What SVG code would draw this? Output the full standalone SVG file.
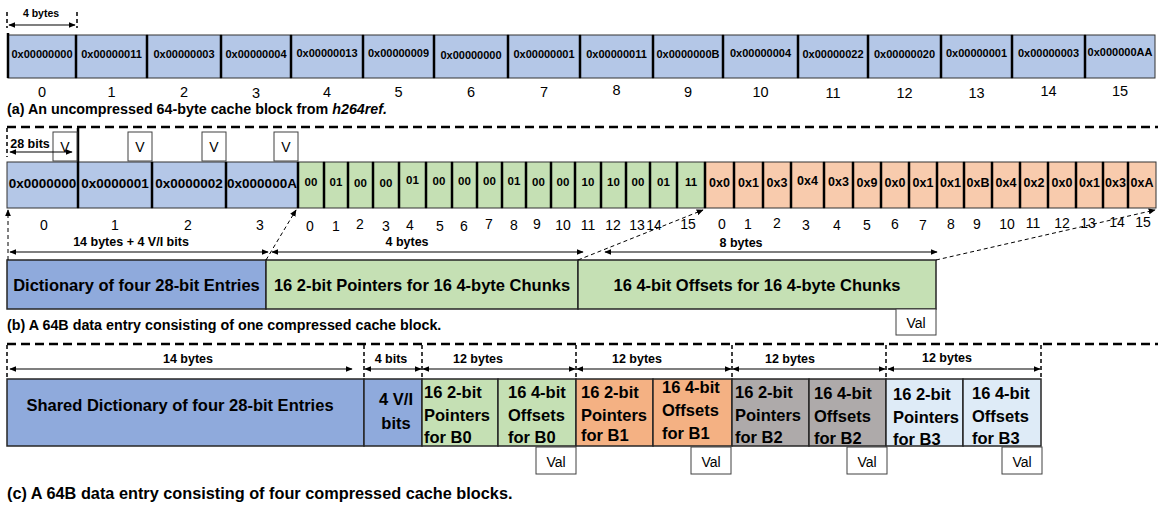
<svg xmlns="http://www.w3.org/2000/svg" width="1158" height="506" viewBox="0 0 1158 506">
<defs>
<marker id="ah" viewBox="0 0 10 10" refX="9" refY="5" markerWidth="7" markerHeight="6" markerUnits="userSpaceOnUse" orient="auto-start-reverse" preserveAspectRatio="none">
<path d="M0,0 L10,5 L0,10 z" fill="#000"/>
</marker>
</defs>
<style>
text{font-family:"Liberation Sans",Arial,sans-serif;fill:#000}
.cap{font-size:14.3px;font-weight:bold}
.c{text-anchor:middle}
.la{font-size:11px;font-weight:bold;text-anchor:middle}
.lbd{font-size:13.5px;font-weight:bold;text-anchor:middle}
.lg{font-size:11.5px;font-weight:bold;text-anchor:middle}
.lo{font-size:12.5px;font-weight:bold;text-anchor:middle}
.ia{font-size:14.5px;text-anchor:middle}
.ib{font-size:14px;text-anchor:middle}
.dim{font-size:12.5px;font-weight:bold;text-anchor:middle}
.big{font-size:16.5px;font-weight:bold}
.small{font-size:14px;text-anchor:middle}
.cellA{fill:#B4C7E7;stroke:#333;stroke-width:1}
.cellG{fill:#C5E0B4;stroke:#333;stroke-width:1}
.cellO{fill:#F8CBAD;stroke:#333;stroke-width:1}
.sep{stroke:#000;stroke-width:2.5}
.box{stroke:#262626;stroke-width:1.5}
.dict{fill:#8FAADC}
.grn{fill:#C5E0B4}
.b1{fill:#F4B183}
.b2{fill:#AEAAAA}
.b3{fill:#DEEBF7}
.wbox{fill:#fff;stroke:#404040;stroke-width:1}
.dsep{stroke:#000;stroke-width:2.5;stroke-dasharray:9 5;fill:none}
.tick{stroke:#000;stroke-width:1.5;stroke-dasharray:4 3;fill:none}
.arr{stroke:#000;stroke-width:1.2;fill:none;marker-start:url(#ah);marker-end:url(#ah)}
.darr{stroke:#000;stroke-width:1;stroke-dasharray:4 3;fill:none;marker-end:url(#ah)}
</style>

<!-- ===== (a) ===== -->
<g id="row-a">
<g id="a0"><rect class="cellA" x="8" y="35" width="68" height="43"/><text class="la" x="42" y="58">0x00000000</text></g>
<g id="a1"><rect class="cellA" x="76" y="35" width="71" height="43"/><text class="la" x="111.5" y="58">0x00000011</text></g>
<g id="a2"><rect class="cellA" x="147" y="35" width="74" height="43"/><text class="la" x="184" y="58">0x00000003</text></g>
<g id="a3"><rect class="cellA" x="221" y="35" width="70" height="43"/><text class="la" x="256" y="58">0x00000004</text></g>
<g id="a4"><rect class="cellA" x="291" y="35" width="72" height="43"/><text class="la" x="327" y="57">0x00000013</text></g>
<g id="a5"><rect class="cellA" x="363" y="35" width="71" height="43"/><text class="la" x="398.5" y="57">0x00000009</text></g>
<g id="a6"><rect class="cellA" x="434" y="35" width="74" height="43"/><text class="la" x="471" y="59">0x00000000</text></g>
<g id="a7"><rect class="cellA" x="508" y="35" width="72" height="43"/><text class="la" x="544" y="58">0x00000001</text></g>
<g id="a8"><rect class="cellA" x="580" y="35" width="73" height="43"/><text class="la" x="616.5" y="58">0x00000011</text></g>
<g id="a9"><rect class="cellA" x="653" y="35" width="70" height="43"/><text class="la" x="688" y="58">0x0000000B</text></g>
<g id="a10"><rect class="cellA" x="723" y="35" width="75" height="43"/><text class="la" x="760.5" y="57">0x00000004</text></g>
<g id="a11"><rect class="cellA" x="798" y="35" width="70" height="43"/><text class="la" x="833" y="58">0x00000022</text></g>
<g id="a12"><rect class="cellA" x="868" y="35" width="73" height="43"/><text class="la" x="904.5" y="58">0x00000020</text></g>
<g id="a13"><rect class="cellA" x="941" y="35" width="71" height="43"/><text class="la" x="976.5" y="57">0x00000001</text></g>
<g id="a14"><rect class="cellA" x="1012" y="35" width="73" height="43"/><text class="la" x="1048.5" y="57">0x00000003</text></g>
<g id="a15"><rect class="cellA" x="1085" y="35" width="70" height="43"/><text class="la" x="1120" y="56">0x000000AA</text></g>
<g id="a-sep">
<path class="sep" d="M8,33V78 M76,35V78 M147,35V78 M221,35V78 M291,35V78 M363,35V78 M434,35V78 M508,35V78 M580,35V78 M653,35V78 M723,35V78 M798,35V78 M868,35V78 M941,35V78 M1012,35V78 M1085,35V78"/>
</g>
<g id="a-idx">
<text class="ia" x="42" y="97">0</text><text class="ia" x="111.5" y="97">1</text><text class="ia" x="184" y="97">2</text><text class="ia" x="256" y="98">3</text><text class="ia" x="327" y="97">4</text><text class="ia" x="398.5" y="97">5</text><text class="ia" x="471" y="97">6</text><text class="ia" x="544" y="97">7</text><text class="ia" x="616.5" y="95">8</text><text class="ia" x="688" y="97">9</text><text class="ia" x="760.5" y="97">10</text><text class="ia" x="833" y="98">11</text><text class="ia" x="904.5" y="98">12</text><text class="ia" x="976.5" y="98">13</text><text class="ia" x="1048.5" y="96">14</text><text class="ia" x="1120" y="96">15</text>
</g>
<text class="dim" x="41" y="17" style="font-size:10.5px">4 bytes</text>
</g>
<text id="cap-a" class="cap" x="7" y="114">(a) An uncompressed 64-byte cache block from <tspan font-style="italic">h264ref.</tspan></text>

<!-- ===== (b) ===== -->
<g id="row-b">
<g id="bd0"><rect class="cellA" x="7" y="162" width="71" height="46"/><text class="lbd" x="42.5" y="188">0x0000000</text></g>
<g id="bd1"><rect class="cellA" x="78" y="162" width="74" height="46"/><text class="lbd" x="115" y="188">0x0000001</text></g>
<g id="bd2"><rect class="cellA" x="152" y="162" width="74" height="46"/><text class="lbd" x="189" y="188">0x0000002</text></g>
<g id="bd3"><rect class="cellA" x="226" y="162" width="72" height="46"/><text class="lbd" x="262" y="188">0x000000A</text></g>

<g id="bp0"><rect class="cellG" x="298" y="162" width="26" height="46"/><text class="lg" x="311" y="186">00</text></g>
<g id="bp1"><rect class="cellG" x="324" y="162" width="24" height="46"/><text class="lg" x="336" y="186">01</text></g>
<g id="bp2"><rect class="cellG" x="348" y="162" width="25" height="46"/><text class="lg" x="360.5" y="187">00</text></g>
<g id="bp3"><rect class="cellG" x="373" y="162" width="26" height="46"/><text class="lg" x="386" y="187">00</text></g>
<g id="bp4"><rect class="cellG" x="399" y="162" width="27" height="46"/><text class="lg" x="412.5" y="184">01</text></g>
<g id="bp5"><rect class="cellG" x="426" y="162" width="26" height="46"/><text class="lg" x="439" y="185">00</text></g>
<g id="bp6"><rect class="cellG" x="452" y="162" width="25" height="46"/><text class="lg" x="464.5" y="185">00</text></g>
<g id="bp7"><rect class="cellG" x="477" y="162" width="25" height="46"/><text class="lg" x="489.5" y="185">00</text></g>
<g id="bp8"><rect class="cellG" x="502" y="162" width="24" height="46"/><text class="lg" x="514" y="185">01</text></g>
<g id="bp9"><rect class="cellG" x="526" y="162" width="25" height="46"/><text class="lg" x="538.5" y="186">00</text></g>
<g id="bp10"><rect class="cellG" x="551" y="162" width="24" height="46"/><text class="lg" x="563" y="186">00</text></g>
<g id="bp11"><rect class="cellG" x="575" y="162" width="26" height="46"/><text class="lg" x="588" y="186">10</text></g>
<g id="bp12"><rect class="cellG" x="601" y="162" width="25" height="46"/><text class="lg" x="613.5" y="186">10</text></g>
<g id="bp13"><rect class="cellG" x="626" y="162" width="24" height="46"/><text class="lg" x="638" y="186">00</text></g>
<g id="bp14"><rect class="cellG" x="650" y="162" width="27" height="46"/><text class="lg" x="663.5" y="186">01</text></g>
<g id="bp15"><rect class="cellG" x="677" y="162" width="28" height="46"/><text class="lg" x="691" y="186">11</text></g>

<g id="bo0"><rect class="cellO" x="705" y="162" width="29" height="46"/><text class="lo" x="719.5" y="187">0x0</text></g>
<g id="bo1"><rect class="cellO" x="734" y="162" width="29" height="46"/><text class="lo" x="748.5" y="187">0x1</text></g>
<g id="bo2"><rect class="cellO" x="763" y="162" width="28" height="46"/><text class="lo" x="777" y="187">0x3</text></g>
<g id="bo3"><rect class="cellO" x="791" y="162" width="33" height="46"/><text class="lo" x="807.5" y="185">0x4</text></g>
<g id="bo4"><rect class="cellO" x="824" y="162" width="29" height="46"/><text class="lo" x="838.5" y="186">0x3</text></g>
<g id="bo5"><rect class="cellO" x="853" y="162" width="28" height="46"/><text class="lo" x="867" y="187">0x9</text></g>
<g id="bo6"><rect class="cellO" x="881" y="162" width="28" height="46"/><text class="lo" x="895" y="187">0x0</text></g>
<g id="bo7"><rect class="cellO" x="909" y="162" width="28" height="46"/><text class="lo" x="923" y="187">0x1</text></g>
<g id="bo8"><rect class="cellO" x="937" y="162" width="27" height="46"/><text class="lo" x="950.5" y="187">0x1</text></g>
<g id="bo9"><rect class="cellO" x="964" y="162" width="28" height="46"/><text class="lo" x="978" y="187">0xB</text></g>
<g id="bo10"><rect class="cellO" x="992" y="162" width="28" height="46"/><text class="lo" x="1006" y="187">0x4</text></g>
<g id="bo11"><rect class="cellO" x="1020" y="162" width="28" height="46"/><text class="lo" x="1034" y="187">0x2</text></g>
<g id="bo12"><rect class="cellO" x="1048" y="162" width="28" height="46"/><text class="lo" x="1062" y="187">0x0</text></g>
<g id="bo13"><rect class="cellO" x="1076" y="162" width="27" height="46"/><text class="lo" x="1089.5" y="187">0x1</text></g>
<g id="bo14"><rect class="cellO" x="1103" y="162" width="25" height="46"/><text class="lo" x="1115.5" y="187">0x3</text></g>
<g id="bo15"><rect class="cellO" x="1128" y="162" width="28" height="46"/><text class="lo" x="1142" y="187">0xA</text></g>

<g id="b-sep">
<path class="sep" d="M78,128V208 M152,162V208 M226,162V208 M298,162V208 M324,162V208 M348,162V208 M373,162V208 M399,162V208 M426,162V208 M452,162V208 M477,162V208 M502,162V208 M526,162V208 M551,162V208 M575,162V208 M601,162V208 M626,162V208 M650,162V208 M677,162V208 M705,162V208 M734,162V208 M763,162V208 M791,162V208 M824,162V208 M853,162V208 M881,162V208 M909,162V208 M937,162V208 M964,162V208 M992,162V208 M1020,162V208 M1048,162V208 M1076,162V208 M1103,162V208 M1128,162V208"/>
</g>

<g id="v0"><rect class="wbox" x="53" y="132" width="24" height="29"/><text class="small" x="65" y="152">V</text></g>
<g id="v1"><rect class="wbox" x="128" y="132" width="24" height="29"/><text class="small" x="140" y="152">V</text></g>
<g id="v2"><rect class="wbox" x="202" y="132" width="24" height="29"/><text class="small" x="214" y="152">V</text></g>
<g id="v3"><rect class="wbox" x="274" y="132" width="24" height="29"/><text class="small" x="286" y="152">V</text></g>
<text class="dim" x="30" y="148" style="font-size:12.5px">28 bits</text>

<g id="b-idx">
<text class="ib" x="44" y="230">0</text><text class="ib" x="115" y="230">1</text><text class="ib" x="188" y="230">2</text><text class="ib" x="260" y="230">3</text>
<text class="ib" x="310" y="231">0</text><text class="ib" x="336" y="231">1</text><text class="ib" x="360" y="229">2</text><text class="ib" x="386" y="231">3</text><text class="ib" x="410" y="230">4</text><text class="ib" x="440" y="231">5</text><text class="ib" x="464" y="231">6</text><text class="ib" x="489" y="229">7</text><text class="ib" x="514" y="230">8</text><text class="ib" x="537" y="229">9</text><text class="ib" x="563" y="230">10</text><text class="ib" x="588" y="230">11</text><text class="ib" x="613" y="230">12</text><text class="ib" x="637" y="230">13</text><text class="ib" x="654" y="230">14</text><text class="ib" x="688" y="229">15</text>
<text class="ib" x="722" y="229">0</text><text class="ib" x="748" y="229">1</text><text class="ib" x="777" y="228">2</text><text class="ib" x="806" y="230">3</text><text class="ib" x="837" y="230">4</text><text class="ib" x="867" y="230">5</text><text class="ib" x="895" y="229">6</text><text class="ib" x="923" y="230">7</text><text class="ib" x="951" y="229">8</text><text class="ib" x="977" y="229">9</text><text class="ib" x="1007" y="229">10</text><text class="ib" x="1033" y="228">11</text><text class="ib" x="1062" y="228">12</text><text class="ib" x="1088" y="228">13</text><text class="ib" x="1117" y="227">14</text><text class="ib" x="1143" y="227">15</text>
</g>

<text class="dim" x="131" y="246">14 bytes + 4 V/I bits</text>
<text class="dim" x="407" y="246">4 bytes</text>
<text class="dim" x="741" y="247">8 bytes</text>

<g id="b-dict"><rect class="box dict" x="7" y="260" width="259" height="49"/><text class="big c" x="136.5" y="291">Dictionary of four 28-bit Entries</text></g>
<g id="b-ptr"><rect class="box grn" x="266" y="260" width="312" height="49"/><text class="big c" x="422" y="291">16 2-bit Pointers for 16 4-byte Chunks</text></g>
<g id="b-off"><rect class="box grn" x="578" y="260" width="358" height="49"/><text class="big c" x="757" y="291">16 4-bit Offsets for 16 4-byte Chunks</text></g>
<g id="b-val"><rect class="wbox" x="896" y="309" width="40" height="26"/><text class="small" x="916" y="328">Val</text></g>
</g>
<text id="cap-b" class="cap" x="7" y="330">(b) A 64B data entry consisting of one compressed cache block.</text>

<!-- ===== (c) ===== -->
<g id="row-c">
<g id="c-dict"><rect class="box dict" x="7" y="379" width="357" height="67"/><text class="big c" x="180" y="411">Shared Dictionary of four 28-bit Entries</text></g>
<g id="c-vi"><rect class="box dict" x="364" y="379" width="58" height="67"/><text class="big c" x="396" y="405">4 V/I</text><text class="big c" x="396" y="429">bits</text></g>
<g id="c-p0"><rect class="box grn" x="422" y="379" width="76" height="67"/><text class="big"><tspan x="424" y="398">16 2-bit</tspan><tspan x="424" y="421">Pointers</tspan><tspan x="424" y="443">for B0</tspan></text></g>
<g id="c-o0"><rect class="box grn" x="498" y="379" width="78" height="67"/><text class="big"><tspan x="508" y="398">16 4-bit</tspan><tspan x="508" y="421">Offsets</tspan><tspan x="508" y="443">for B0</tspan></text></g>
<g id="c-p1"><rect class="box b1" x="576" y="379" width="77" height="67"/><text class="big"><tspan x="581" y="398">16 2-bit</tspan><tspan x="581" y="421">Pointers</tspan><tspan x="581" y="441">for B1</tspan></text></g>
<g id="c-o1"><rect class="box b1" x="653" y="379" width="79" height="67"/><text class="big"><tspan x="662" y="393">16 4-bit</tspan><tspan x="662" y="416">Offsets</tspan><tspan x="662" y="439">for B1</tspan></text></g>
<g id="c-p2"><rect class="box b2" x="732" y="379" width="77" height="67"/><text class="big"><tspan x="735" y="398">16 2-bit</tspan><tspan x="735" y="421">Pointers</tspan><tspan x="735" y="443">for B2</tspan></text></g>
<g id="c-o2"><rect class="box b2" x="809" y="379" width="77" height="67"/><text class="big"><tspan x="814" y="399">16 4-bit</tspan><tspan x="814" y="422">Offsets</tspan><tspan x="814" y="444">for B2</tspan></text></g>
<g id="c-p3"><rect class="box b3" x="886" y="379" width="77" height="67"/><text class="big"><tspan x="893" y="400">16 2-bit</tspan><tspan x="893" y="423">Pointers</tspan><tspan x="893" y="445">for B3</tspan></text></g>
<g id="c-o3"><rect class="box b3" x="963" y="379" width="78" height="67"/><text class="big"><tspan x="972" y="399">16 4-bit</tspan><tspan x="972" y="422">Offsets</tspan><tspan x="972" y="444">for B3</tspan></text></g>
<g id="c-v0"><rect class="wbox" x="536" y="447" width="40" height="27"/><text class="small" x="556" y="467">Val</text></g>
<g id="c-v1"><rect class="wbox" x="691" y="447" width="40" height="27"/><text class="small" x="711" y="467">Val</text></g>
<g id="c-v2"><rect class="wbox" x="847" y="447" width="40" height="27"/><text class="small" x="867" y="467">Val</text></g>
<g id="c-v3"><rect class="wbox" x="1002" y="447" width="40" height="27"/><text class="small" x="1022" y="467">Val</text></g>
<text class="dim" x="188" y="363">14 bytes</text>
<text class="dim" x="391" y="363">4 bits</text>
<text class="dim" x="478" y="363">12 bytes</text>
<text class="dim" x="637" y="363">12 bytes</text>
<text class="dim" x="790" y="363">12 bytes</text>
<text class="dim" x="947" y="362">12 bytes</text>
</g>
<text id="cap-c" class="cap" x="7" y="499" style="font-size:16.3px">(c) A 64B data entry consisting of four compressed cache blocks.</text>

<!-- ===== connectors ===== -->
<g id="connectors">
<path class="dsep" d="M7,127H1158"/>
<path class="dsep" d="M7,344H1158"/>
<path class="tick" d="M7,12V28 M77,12V28"/>
<path class="arr" d="M9,25H75"/>
<path class="tick" d="M7,128V157"/>
<path class="arr" d="M10,152H72"/>
<path class="arr" d="M10,252H268"/>
<path class="arr" d="M272,252H583"/>
<path class="arr" d="M605,252H937"/>
<path class="darr" d="M8,260V210"/>
<path class="darr" d="M266,260L296,210"/>
<path class="darr" d="M578,260L703,210"/>
<path class="darr" d="M936,260L1155,210"/>
<path class="tick" d="M7,345V378 M364,345V378 M422,345V378 M576,345V378 M732,345V378 M886,345V378 M1041,345V378"/>
<path class="arr" d="M10,369H352"/>
<path class="arr" d="M365,369H421"/>
<path class="arr" d="M423,369H575"/>
<path class="arr" d="M577,369H731"/>
<path class="arr" d="M733,369H885"/>
<path class="arr" d="M888,369H1040"/>
</g>
</svg>
